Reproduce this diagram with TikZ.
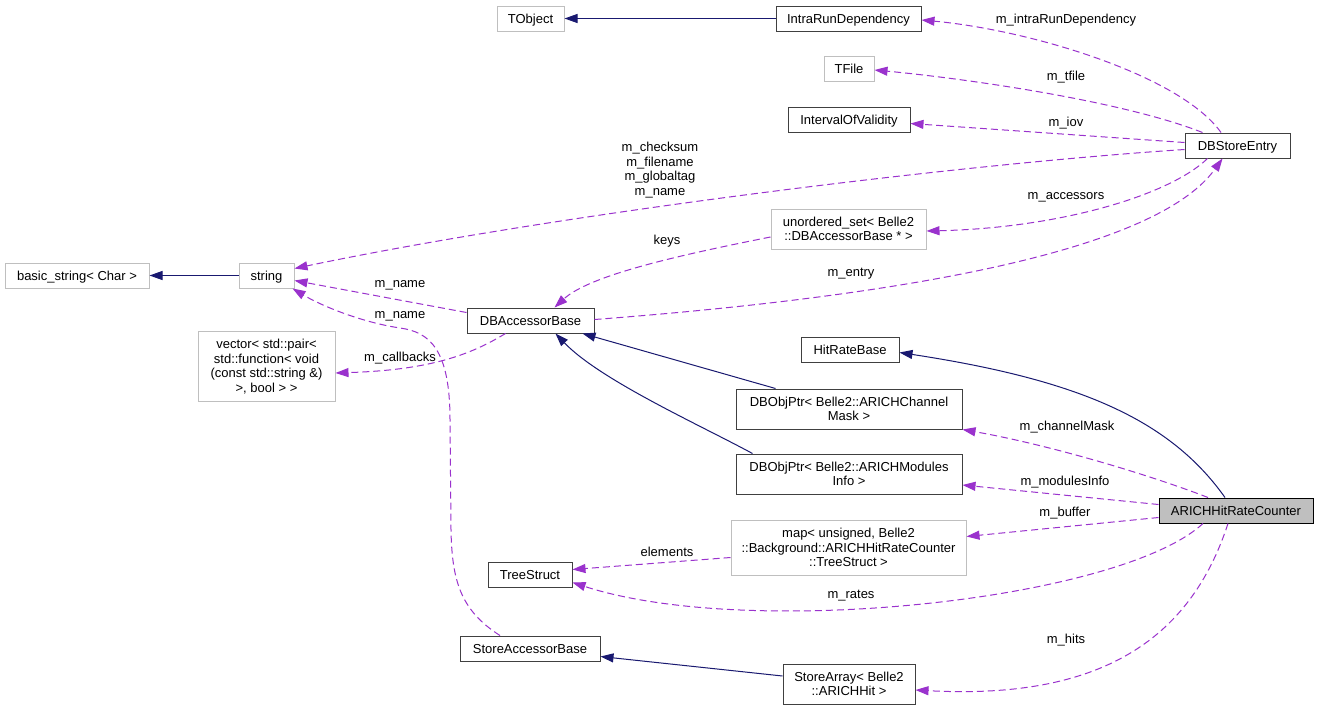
\documentclass[tikz,border=0pt]{standalone}
\usepackage{fontspec}
\setmainfont{Liberation Sans}
\usetikzlibrary{arrows.meta,calc}
\definecolor{navy}{RGB}{25,25,112}
\definecolor{orch}{RGB}{154,50,205}
\definecolor{gborder}{RGB}{191,191,191}
\definecolor{dborder}{RGB}{64,64,64}
\definecolor{selfill}{RGB}{191,191,191}
\begin{document}
\begin{tikzpicture}[x=1pt,y=-1pt,
  font=\fontsize{13}{14.5}\selectfont,
  tone/.style={text height=10.5pt, text depth=1.5pt},
  ttwo/.style={text height=25pt, text depth=1.5pt},
  tthree/.style={text height=39.5pt, text depth=1.5pt},
  tfour/.style={text height=54pt, text depth=1.5pt},
  box/.style={draw=dborder, line width=1pt, rectangle, inner sep=0pt, align=center},
  gbox/.style={box, draw=gborder},
  selbox/.style={box, draw=black, fill=selfill},
  inh/.style={draw=navy, line width=1pt, -{Triangle[length=13pt,width=9pt]}},
  use/.style={draw=orch, line width=1pt, dash pattern=on 7pt off 4pt, -{Triangle[length=13pt,width=9pt]}},
  lbl/.style={inner sep=0pt, align=center}
]
\fill[white] (0,0) rectangle (1320,710);
\useasboundingbox (0,0) rectangle (1320,710);

% nodes
\node[gbox, tone, minimum width=67pt, minimum height=25pt] (tobj) at (530.5,18.5) {TObject};
\node[box, tone, minimum width=145pt, minimum height=25pt] (ird) at (848.5,18.5) {IntraRunDependency};
\node[gbox, tone, minimum width=50pt, minimum height=25pt] (tfile) at (849,68.5) {TFile};
\node[box, tone, minimum width=122pt, minimum height=25pt] (iov) at (849,119.5) {IntervalOfValidity};
\node[box, tone, minimum width=105pt, minimum height=25pt] (dbse) at (1237.5,145.5) {DBStoreEntry};
\node[gbox, ttwo, minimum width=155pt, minimum height=40pt] (uset) at (848.5,229) {unordered\_set< Belle2\\::DBAccessorBase * >};
\node[gbox, tone, minimum width=144pt, minimum height=25pt] (bstr) at (77,275.5) {basic\_string< Char >};
\node[gbox, tone, minimum width=55pt, minimum height=25pt] (str) at (266.5,275.5) {string};
\node[box, tone, minimum width=127pt, minimum height=25pt] (dbab) at (530.5,320.5) {DBAccessorBase};
\node[gbox, tfour, minimum width=137pt, minimum height=70pt] (vec) at (266.5,366) {vector< std::pair<\\ std::function< void\\(const std::string \&)\\>, bool > >};
\node[box, tone, minimum width=98pt, minimum height=25pt] (hrb) at (850,349.5) {HitRateBase};
\node[box, ttwo, minimum width=226pt, minimum height=40pt] (cmask) at (849,409) {DBObjPtr< Belle2::ARICHChannel\\Mask >};
\node[box, ttwo, minimum width=226pt, minimum height=40pt] (minfo) at (849,474) {DBObjPtr< Belle2::ARICHModules\\Info >};
\node[selbox, tone, minimum width=154pt, minimum height=25pt] (arich) at (1236,510.5) {ARICHHitRateCounter};
\node[gbox, tthree, minimum width=235pt, minimum height=55pt] (map) at (848.5,547.5) {map< unsigned, Belle2\\::Background::ARICHHitRateCounter\\::TreeStruct >};
\node[box, tone, minimum width=84pt, minimum height=25pt] (tree) at (530,574.5) {TreeStruct};
\node[box, tone, minimum width=140pt, minimum height=25pt] (sab) at (530,648.5) {StoreAccessorBase};
\node[box, ttwo, minimum width=132pt, minimum height=40pt] (sarr) at (849,684) {StoreArray< Belle2\\::ARICHHit >};

% inheritance edges
\draw[inh] (ird.west) -- (tobj.east);
\draw[inh] (str.west) -- (bstr.east);
\draw[inh] ($(cmask.north west)+(40,0)$) -- ($(dbab.south)+(52,0)$);
\draw[inh] ($(minfo.north west)+(17,0)$) .. controls (700,425) and (600,380) .. ($(dbab.south)+(25,0)$);
\draw[inh] ($(arich.north)+(-11,0)$) .. controls (1170,420) and (1080,380) .. ($(hrb.east)+(0,3)$);
\draw[inh] ($(sarr.west)+(0,-8)$) -- ($(sab.east)+(0,8)$);

% usage edges
\draw[use] ($(dbse.north)+(-16.5,0)$) .. controls (1180,75) and (1030,30) .. ($(ird.east)+(0,1.5)$);
\draw[use] ($(dbse.north)+(-35,0)$) .. controls (1120,100) and (960,78) .. ($(tfile.east)+(0,1.5)$);
\draw[use] ($(dbse.west)+(0,-3)$) -- ($(iov.east)+(0,4)$);
\draw[use] ($(dbse.west)+(0,4)$) .. controls (950,165) and (550,215) .. ($(str.east)+(0,-7)$);
\draw[use] ($(dbse.south)+(-30,0)$) .. controls (1170,195) and (1060,228) .. ($(uset.east)+(0,2)$);
\draw[use] ($(dbab.east)+(0,-1)$) .. controls (850,300) and (1150,260) .. ($(dbse.south)+(-15,0)$);
\draw[use] ($(uset.west)+(0,8)$) .. controls (680,255) and (590,275) .. ($(dbab.north)+(24,0)$);
\draw[use] ($(dbab.west)+(0,-8)$) -- ($(str.east)+(0,5)$);
\draw[use] ($(sab.north)+(-30,0)$) .. controls (460,610) and (452,580) .. (451,530) -- (450,420) .. controls (450,350) and (430,332) .. (400,328) .. controls (360,322) and (320,305) .. ($(str.south east)+(-2,0)$);
\draw[use] ($(dbab.south)+(-25,0)$) .. controls (470,355) and (430,370) .. ($(vec.east)+(0,7)$);
\draw[use] ($(arich.north)+(-28,0)$) .. controls (1150,475) and (1050,445) .. (cmask.south east);
\draw[use] ($(arich.west)+(0,-6)$) -- ($(minfo.east)+(0,11)$);
\draw[use] ($(arich.west)+(0,7)$) -- ($(map.east)+(0,-11)$);
\draw[use] ($(map.west)+(0,10)$) -- ($(tree.east)+(0,-5)$);
\draw[use] ($(arich.south)+(-33,0)$) .. controls (1120,600) and (750,640) .. ($(tree.east)+(0,8)$);
\draw[use] ($(arich.south)+(-8,0)$) .. controls (1190,640) and (1100,700) .. ($(sarr.east)+(0,6)$);

% labels
\node[lbl, tone] (l1) at (1066,19) {m\_intraRunDependency};
\node[lbl, tone] (l2) at (1066,76) {m\_tfile};
\node[lbl, tone] (l3) at (1066,122) {m\_iov};
\node[lbl, tfour] (l4) at (660,169) {m\_checksum\\m\_filename\\m\_globaltag\\m\_name};
\node[lbl, tone] (l5) at (1066,195) {m\_accessors};
\node[lbl, tone] (l6) at (667,240) {keys};
\node[lbl, tone] (l7) at (851,272) {m\_entry};
\node[lbl, tone] (l8) at (400,283) {m\_name};
\node[lbl, tone] (l9) at (400,314) {m\_name};
\node[lbl, tone] (l10) at (400,357) {m\_callbacks};
\node[lbl, tone] (l11) at (1067,426) {m\_channelMask};
\node[lbl, tone] (l12) at (1065,481) {m\_modulesInfo};
\node[lbl, tone] (l13) at (1065,512) {m\_buffer};
\node[lbl, tone] (l14) at (667,552) {elements};
\node[lbl, tone] (l15) at (851,594) {m\_rates};
\node[lbl, tone] (l16) at (1066,639) {m\_hits};
\end{tikzpicture}
\end{document}
